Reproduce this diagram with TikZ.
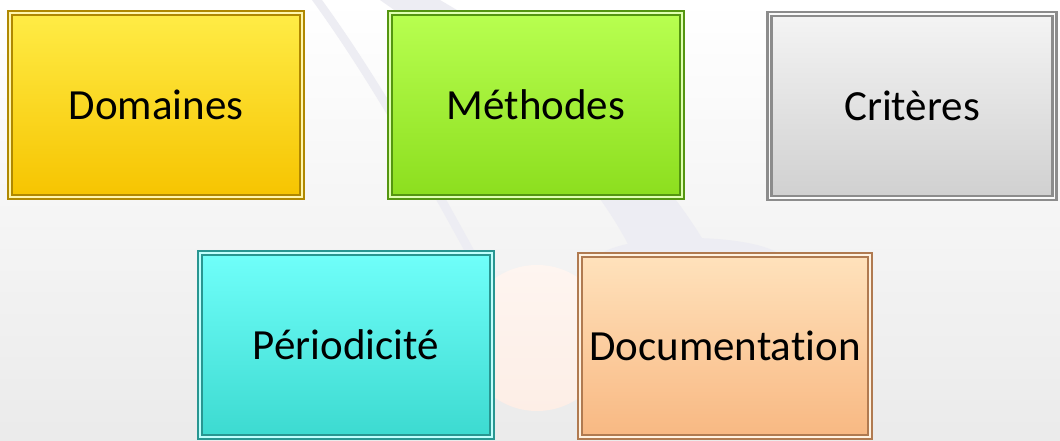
\documentclass[tikz,border=0pt]{standalone}
\usepackage{fontspec}
\setmainfont{Carlito}[Ligatures=NoCommon]
\usetikzlibrary{shadows}
\definecolor{domtop}{RGB}{255,236,70}
\definecolor{dombot}{RGB}{246,196,0}
\definecolor{domrim}{RGB}{176,136,0}
\definecolor{mettop}{RGB}{184,255,80}
\definecolor{metbot}{RGB}{140,222,30}
\definecolor{metrim}{RGB}{84,150,16}
\definecolor{crttop}{RGB}{244,244,244}
\definecolor{crtbot}{RGB}{208,208,208}
\definecolor{crtrim}{RGB}{140,140,140}
\definecolor{pertop}{RGB}{112,255,250}
\definecolor{perbot}{RGB}{60,218,208}
\definecolor{perrim}{RGB}{40,150,145}
\definecolor{doctop}{RGB}{255,226,188}
\definecolor{docbot}{RGB}{248,184,130}
\definecolor{docrim}{RGB}{176,122,80}
\definecolor{swoosh}{RGB}{237,237,243}
\definecolor{peach}{RGB}{253,238,230}

\begin{document}
\begin{tikzpicture}[x=1pt,y=-1pt,
  card/.style n args={3}{rectangle,minimum width=292pt,minimum height=184pt,
    top color=#1,bottom color=#2,draw=#3,line width=2.2pt,
    double=#1!45!white,double distance=1.8pt,
    general shadow={fill=#3!75!black,shadow xshift=2.5pt,shadow yshift=-2.5pt},
    font=\fontsize{43}{48}\selectfont,text=black,inner sep=0pt}]
  \useasboundingbox (0,0) rectangle (1060,441);
  % background
  \shade[top color=white,middle color=white,bottom color=gray!16] (0,0) rectangle (1060,441);
  \fill[swoosh] (312,0) -- (322,0) .. controls (380,80) and (430,170) .. (474,250)
    -- (464,250) .. controls (420,170) and (370,80) .. (312,0) -- cycle;
  \fill[swoosh] (380,0) -- (440,0) .. controls (560,70) and (650,150) .. (708,248)
    -- (630,248) .. controls (580,150) and (480,70) .. (380,0) -- cycle;
  \fill[swoosh] (690,262) ellipse (95pt and 24pt);
  \shade[top color=peach!60!white,bottom color=peach] (537,338) circle (73pt);
  % cards
  \node[card={domtop}{dombot}{domrim}] (dom) at (156,105) {Domaines};
  \node[card={mettop}{metbot}{metrim}] (met) at (536,105) {Méthodes};
  \node[card={crttop}{crtbot}{crtrim},minimum width=285pt] (crt) at (912,106) {Critères};
  \node[card={pertop}{perbot}{perrim}] (per) at (346,345) {Périodicité};
  \node[card={doctop}{docbot}{docrim},minimum width=290pt,minimum height=182pt] (doc) at (725,346) {Documentation};
\end{tikzpicture}
\end{document}
